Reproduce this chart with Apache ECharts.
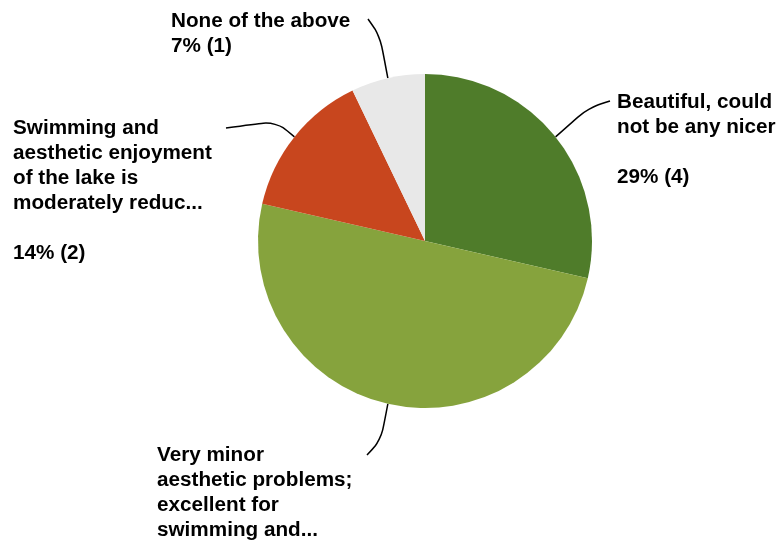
<!DOCTYPE html>
<html>
<head>
<meta charset="utf-8">
<script src="https://cdn.jsdelivr.net/npm/echarts@6/dist/echarts.min.js"></script>
<style>html,body{margin:0;padding:0;background:#fff;}#c{width:782px;height:542px;}</style>
</head>
<body>
<div id="c"></div>
<script>
// Data
var categories = [
  "Beautiful, could not be any nicer",
  "Very minor aesthetic problems; excellent for swimming and...",
  "Swimming and aesthetic enjoyment of the lake is moderately reduc...",
  "None of the above"
];
var labelNames = [
  "Beautiful, could\nnot be any nicer",
  "Very minor\naesthetic problems;\nexcellent for\nswimming and...",
  "Swimming and\naesthetic enjoyment\nof the lake is\nmoderately reduc...",
  "None of the above"
];
var showPercentSeparate = [true, false, true, false];
var showPercentInline = [false, false, false, true];
var values = [4, 7, 2, 1];
var colors = ["#4f7c2a", "#86a33d", "#c8461e", "#e8e8e8"];

// Layout (label positions and leader bends)
var labelPos = [
  {x: 617, y: 90},
  {x: 157, y: 443},
  {x: 13, y: 116},
  {x: 171, y: 9}
];
var lineBend = [
  {mid: [588, 108], end: [610, 101]},
  {mid: [381, 440], end: [367, 455]},
  {mid: [276, 121], end: [226, 128]},
  {mid: [380, 36], end: [368, 19]}
];

var chart = echarts.init(document.getElementById('c'), null, {renderer: 'canvas'});
chart.setOption({
  backgroundColor: '#ffffff',
  animation: false,
  series: [{
    type: 'pie',
    center: [425, 241],
    radius: 167,
    startAngle: 90,
    clockwise: true,
    percentPrecision: 0,
    avoidLabelOverlap: false,
    data: categories.map(function (c, i) {
      return {name: c, value: values[i], itemStyle: {color: colors[i]}};
    }),
    label: {
      show: true,
      position: 'outside',
      color: '#000',
      fontFamily: 'Liberation Sans, Arial, sans-serif',
      fontWeight: 'bold',
      fontSize: 20.7,
      lineHeight: 25,
      align: 'left',
      formatter: function (p) {
        var i = p.dataIndex;
        var pc = p.percent + '% (' + p.value + ')';
        if (showPercentSeparate[i]) return labelNames[i] + '\n\n' + pc;
        if (showPercentInline[i]) return labelNames[i] + '\n' + pc;
        return labelNames[i];
      }
    },
    labelLine: {
      show: true,
      smooth: 0.35,
      lineStyle: {color: '#000', width: 1.5}
    },
    labelLayout: function (params) {
      var i = params.dataIndex;
      var a = params.labelLinePoints ? params.labelLinePoints[0] : null;
      var res = {
        x: labelPos[i].x,
        y: labelPos[i].y,
        align: 'left',
        verticalAlign: 'top'
      };
      if (a) {
        res.labelLinePoints = [a, lineBend[i].mid, lineBend[i].end];
      }
      return res;
    }
  }]
});
</script>
</body>
</html>
